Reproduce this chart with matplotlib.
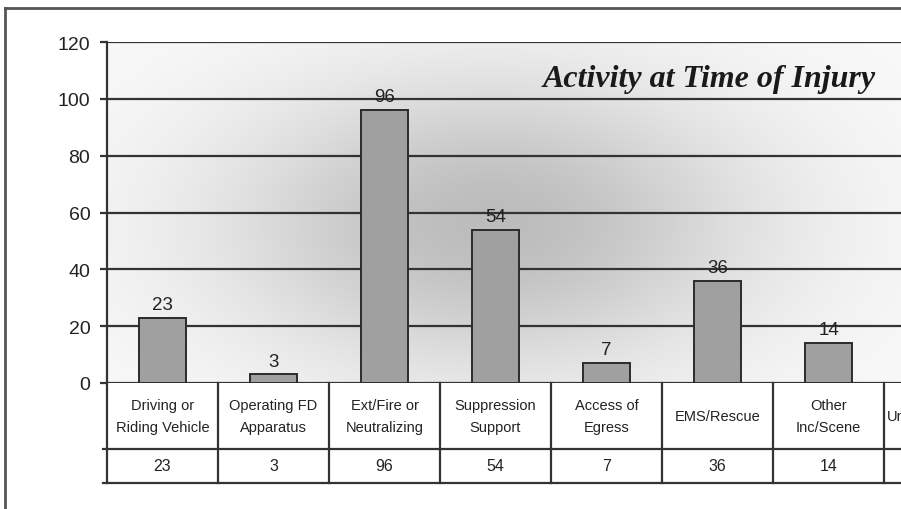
import numpy as np
import matplotlib
matplotlib.use("Agg")
import matplotlib.pyplot as plt
import matplotlib.transforms as mtransforms
from matplotlib.lines import Line2D

# ---- data ----
categories = ["Driving or\nRiding Vehicle", "Operating FD\nApparatus", "Ext/Fire or\nNeutralizing",
              "Suppression\nSupport", "Access of\nEgress", "EMS/Rescue", "Other\nInc/Scene"]
# a further category is cut off at the right edge of the reference; only its first letter shows
cut_category = "Unknown/Other"
values = [23, 3, 96, 54, 7, 36, 14]
y_ticks = [0, 20, 40, 60, 80, 100, 120]
title = "Activity at Time of Injury"

W, H = 901, 510
fig = plt.figure(figsize=(W / 100, H / 100), dpi=100)
fig.patch.set_facecolor("white")

# pixel layout
ax_left, ax_top, ax_bottom = 107, 43, 384
cat_w = 111
n = len(categories) + 1
ax = fig.add_axes([ax_left / W, (H - ax_bottom) / H, n * cat_w / W, (ax_bottom - ax_top) / H])
ax.set_xlim(-0.5, n - 0.5)
ax.set_ylim(0, 120)

# radial-ish grey background inside the plot area
px_x = np.linspace(ax_left, ax_left + n * cat_w, 400)
px_y = np.linspace(ax_top, ax_bottom, 200)
XX, YY = np.meshgrid(px_x, px_y)
g = np.exp(-0.5 * (((XX - 490) / 190) ** 2 + ((YY - 225) / 105) ** 2))
bright = (250 - 62 * g) / 255.0
img = np.dstack([bright, bright, bright])
ax.imshow(img, extent=[-0.5, n - 0.5, 0, 120], origin="upper", aspect="auto", zorder=0,
          interpolation="bilinear")

# gridlines
for t in y_ticks:
    ax.axhline(t, color="#333333", lw=1.6, zorder=1)

x = np.arange(len(values))
ax.bar(x, values, width=0.415, color="#a0a0a0", edgecolor="#2b2b2b", linewidth=1.4, zorder=2)
for xi, v in zip(x, values):
    ax.annotate(str(v), (xi, v), xytext=(0, 3.5), textcoords="offset points", ha="center",
                va="bottom", fontsize=13.5, family="Liberation Sans", color="#222222", zorder=3)

# axes styling
for s in ["top", "right", "bottom"]:
    ax.spines[s].set_visible(False)
ax.spines["left"].set_color("#333333")
ax.spines["left"].set_linewidth(1.6)
ax.spines["left"].set_zorder(3)
ax.set_xticks([])
ax.set_yticks(y_ticks)
ax.set_yticklabels([str(t) for t in y_ticks], fontsize=14, family="Liberation Sans", color="#222222")
ax.tick_params(axis="y", length=5, width=1.6, color="#333333", pad=7)

# data table beneath
trans = mtransforms.blended_transform_factory(ax.transData, ax.transAxes)
ph = ax_bottom - ax_top
row1 = -(450 - ax_bottom) / ph
row2 = -(484 - ax_bottom) / ph
x_start = -0.5 - 4 / cat_w
for yy in [row1, row2]:
    ax.add_line(Line2D([x_start, n - 0.5], [yy, yy], transform=trans, color="#333333", lw=1.6,
                       clip_on=False, zorder=3))
for k in range(n + 1):
    ax.add_line(Line2D([k - 0.5, k - 0.5], [0, row2], transform=trans, color="#333333", lw=1.6,
                       clip_on=False, zorder=3))
hdr_y = -(417 - ax_bottom) / ph
val_y = -(467 - ax_bottom) / ph
for xi, lab, v in zip(x, categories, values):
    ax.text(xi, hdr_y, lab, transform=trans, ha="center", va="center", fontsize=10.5,
            family="Liberation Sans", color="#222222", linespacing=1.75, clip_on=False)
    ax.text(xi, val_y, str(v), transform=trans, ha="center", va="center", fontsize=11.5,
            family="Liberation Sans", color="#222222", clip_on=False)
# the cut-off category label at the right edge (only its start is inside the picture)
ax.text(n - 1.5 + 0.03, hdr_y, cut_category, transform=trans, ha="left", va="center",
        fontsize=10.5, family="Liberation Sans", color="#222222", clip_on=False)

# title inside plot
ax.text((876 - ax_left) / cat_w - 0.5, (ax_bottom - 80) / ph * 120, title, ha="right", va="center",
        fontsize=23, family="Liberation Serif", fontweight="bold", fontstyle="italic",
        color="#1a1a1a", zorder=4)

# outer frame (cropped on right and bottom)
fig.add_artist(Line2D([5 / W, 5 / W], [1 - 9 / H, 0], transform=fig.transFigure, color="#555555", lw=2))
fig.add_artist(Line2D([5 / W, 1.0], [1 - 9 / H, 1 - 9 / H], transform=fig.transFigure, color="#555555", lw=2))

fig.savefig("out.png", dpi=100)
